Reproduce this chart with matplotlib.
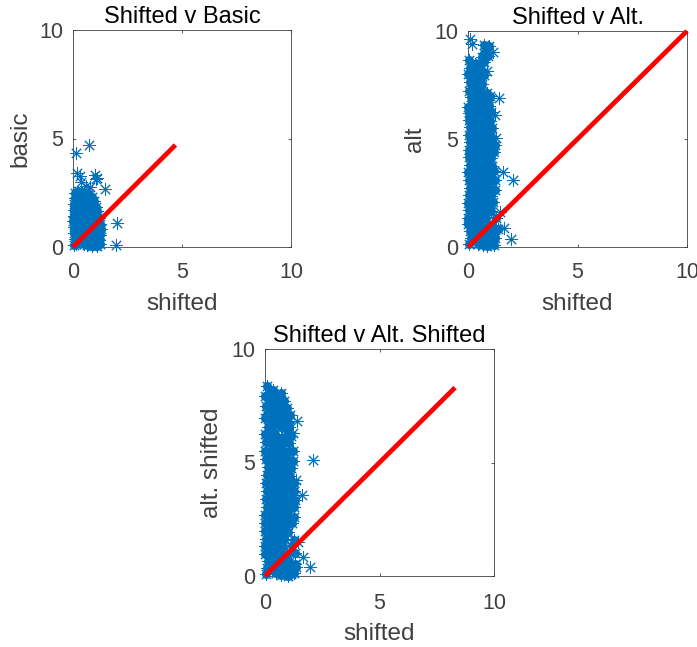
import numpy as np
import matplotlib
matplotlib.use("Agg")
import matplotlib.pyplot as plt

plt.rcParams["font.family"] = ["Liberation Sans", "DejaVu Sans"]

W = 697
H = 647

# Values: (shifted, other)
# the *_sparse lists are the stray points, the others make up the dense cloud
basic_sparse = [
    (0.15, 4.35), (0.75, 4.72), (0.2, 3.4), (0.3, 3.25), (0.35, 3.0), (0.6, 2.8), (0.78, 2.78),
    (1.0, 3.3), (1.05, 3.15), (1.12, 3.2), (1.45, 2.65), (2.02, 1.1), (1.95, 0.08),
]
basic_pts = [
    (0.1, 2.5), (0.25, 2.6), (0.42, 2.55), (0.6, 2.5), (0.72, 2.45), (0.85, 2.3),
    (0.08, 2.25), (0.2, 2.3), (0.35, 2.2), (0.5, 2.28), (0.65, 2.2), (0.8, 2.1), (0.98, 2.12),
    (0.06, 2.0), (0.18, 1.95), (0.3, 2.02), (0.45, 1.9), (0.6, 1.98), (0.75, 1.88), (0.9, 1.95), (1.05, 1.85),
    (0.05, 1.72), (0.15, 1.68), (0.28, 1.75), (0.42, 1.65), (0.56, 1.72), (0.7, 1.62), (0.85, 1.7), (1.0, 1.62), (1.12, 1.68),
    (0.03, 1.45), (0.14, 1.4), (0.26, 1.48), (0.4, 1.38), (0.54, 1.45), (0.68, 1.36), (0.82, 1.44), (0.96, 1.38), (1.1, 1.42), (1.2, 1.35),
    (0.02, 1.18), (0.12, 1.12), (0.24, 1.2), (0.38, 1.1), (0.52, 1.18), (0.66, 1.08), (0.8, 1.16), (0.94, 1.1), (1.08, 1.15), (1.22, 1.08),
    (0.03, 0.92), (0.16, 0.86), (0.3, 0.94), (0.44, 0.84), (0.58, 0.92), (0.72, 0.82), (0.86, 0.9), (1.0, 0.84), (1.14, 0.9), (1.28, 0.82),
    (0.05, 0.64), (0.18, 0.6), (0.32, 0.68), (0.46, 0.58), (0.6, 0.66), (0.74, 0.56), (0.88, 0.64), (1.02, 0.58), (1.16, 0.62), (1.26, 0.55),
    (0.08, 0.38), (0.22, 0.32), (0.36, 0.4), (0.5, 0.3), (0.64, 0.38), (0.78, 0.28), (0.92, 0.36), (1.06, 0.3), (1.2, 0.34),
    (0.04, 0.1), (0.12, 0.14), (0.5, 0.12), (0.62, 0.08), (0.76, 0.14), (0.88, 0.06), (1.0, 0.12), (1.08, 0.04), (1.22, 0.12),
]

alt_sparse = [
    (0.1, 9.65), (0.2, 9.4), (1.15, 9.05), (0.88, 8.15), (1.42, 6.9), (1.25, 6.1), (1.6, 3.45),
    (2.05, 3.1), (1.45, 1.6), (1.65, 0.88), (1.95, 0.35), (1.28, 5.05),
]
alt_pts = [
    (0.72, 9.35), (0.85, 9.2), (0.95, 9.3), (0.75, 9.0), (0.65, 8.8), (0.9, 8.85),
    (0.55, 8.5), (0.72, 8.55), (0.05, 8.65), (0.3, 8.45), (0.1, 8.3), (0.3, 8.2), (0.5, 8.25), (0.68, 8.1),
    (0.02, 8.0), (0.18, 7.9), (0.38, 8.0), (0.58, 7.85), (0.75, 7.95), (0.08, 7.65), (0.28, 7.6), (0.48, 7.7), (0.66, 7.55),
    (0.05, 7.2), (0.2, 7.25), (0.42, 7.3), (0.6, 7.2), (0.85, 7.15), (1.0, 7.0), (0.12, 6.95), (0.3, 6.9), (0.52, 6.95), (0.72, 6.85), (0.92, 6.8),
    (0.02, 6.5), (0.18, 6.6), (0.38, 6.55), (0.58, 6.6), (0.78, 6.5), (0.98, 6.55), (0.05, 6.2), (0.25, 6.25), (0.45, 6.15), (0.65, 6.3), (0.85, 6.2), (1.05, 6.25),
    (0.06, 5.9), (0.26, 5.85), (0.46, 5.95), (0.66, 5.8), (0.86, 5.9), (1.02, 5.85), (0.08, 5.55), (0.28, 5.5), (0.48, 5.6), (0.68, 5.45), (0.88, 5.55), (1.08, 5.5),
    (0.05, 5.2), (0.25, 5.15), (0.45, 5.25), (0.65, 5.1), (0.85, 5.2), (1.05, 5.15), (0.08, 4.85), (0.28, 4.8), (0.48, 4.9), (0.68, 4.75), (0.88, 4.85), (1.08, 4.8), (1.22, 4.7),
    (0.03, 4.5), (0.23, 4.45), (0.43, 4.55), (0.63, 4.4), (0.83, 4.5), (1.03, 4.45), (1.2, 4.4), (0.06, 4.15), (0.26, 4.1), (0.46, 4.2), (0.66, 4.05), (0.86, 4.15), (1.06, 4.1),
    (0.08, 3.8), (0.28, 3.75), (0.48, 3.85), (0.68, 3.7), (0.88, 3.8), (1.08, 3.75), (0.02, 3.45), (0.22, 3.4), (0.42, 3.5), (0.62, 3.35), (0.82, 3.45), (1.02, 3.4), (1.2, 3.5),
    (0.05, 3.1), (0.25, 3.05), (0.45, 3.15), (0.65, 3.0), (0.85, 3.1), (1.05, 3.05), (1.25, 3.1), (0.08, 2.75), (0.28, 2.7), (0.48, 2.8), (0.68, 2.65), (0.88, 2.75), (1.08, 2.7), (1.22, 2.62),
    (0.04, 2.4), (0.24, 2.35), (0.44, 2.45), (0.64, 2.3), (0.84, 2.4), (1.04, 2.35), (0.02, 2.05), (0.22, 2.0), (0.42, 2.1), (0.62, 1.95), (0.82, 2.05), (1.02, 2.0), (1.15, 2.08),
    (0.06, 1.7), (0.26, 1.65), (0.46, 1.75), (0.66, 1.6), (0.86, 1.7), (1.06, 1.65), (0.02, 1.35), (0.22, 1.3), (0.42, 1.4), (0.62, 1.25), (0.82, 1.35), (1.3, 1.35),
    (0.01, 1.05), (0.2, 1.0), (0.4, 1.08), (0.6, 0.95), (0.85, 1.0), (1.1, 1.0), (1.35, 0.85), (0.1, 0.75), (0.3, 0.7), (0.5, 0.78), (0.72, 0.7), (0.95, 0.72), (1.2, 0.68),
    (0.15, 0.42), (0.35, 0.38), (0.55, 0.45), (0.75, 0.38), (0.98, 0.42), (1.25, 0.4), (0.05, 0.12), (0.45, 0.12), (0.7, 0.1), (0.88, 0.05), (1.02, 0.14), (1.18, 0.08),
]

alt_shifted_sparse = [
    (1.38, 6.85), (1.22, 6.3), (2.1, 5.12), (1.35, 4.25), (1.62, 3.55), (1.45, 1.5), (1.65, 0.85), (1.98, 0.38),
]
alt_shifted_pts = [
    (0.08, 8.35), (0.2, 8.1), (0.35, 8.2), (0.5, 8.0), (0.7, 8.05), (0.02, 7.95), (0.15, 7.8), (0.32, 7.85), (0.5, 7.7), (0.68, 7.75), (0.85, 7.7),
    (0.05, 7.5), (0.22, 7.45), (0.4, 7.55), (0.58, 7.4), (0.76, 7.5), (0.95, 7.4), (0.1, 7.15), (0.3, 7.1), (0.48, 7.2), (0.66, 7.05), (0.85, 7.15), (1.08, 7.1),
    (0.0, 6.95), (0.2, 6.85), (0.4, 6.9), (0.6, 6.8), (0.8, 6.85), (1.0, 6.8), (0.15, 6.55), (0.35, 6.6), (0.7, 6.55), (0.9, 6.5), (1.05, 6.55),
    (0.02, 6.25), (0.22, 6.2), (0.42, 6.25), (0.75, 6.1), (0.95, 6.2), (1.12, 6.15), (0.05, 5.9), (0.25, 5.85), (0.45, 5.95), (0.65, 5.8), (0.85, 5.9), (1.05, 5.85),
    (0.02, 5.5), (0.22, 5.45), (0.42, 5.55), (0.62, 5.4), (0.82, 5.5), (1.02, 5.45), (1.22, 5.5), (0.05, 5.15), (0.25, 5.1), (0.45, 5.2), (0.65, 5.05), (0.85, 5.15), (1.05, 5.1), (1.22, 5.05),
    (0.12, 4.8), (0.32, 4.75), (0.52, 4.85), (0.72, 4.7), (0.92, 4.8), (1.12, 4.75), (0.08, 4.45), (0.28, 4.4), (0.48, 4.5), (0.68, 4.35), (0.88, 4.45), (1.08, 4.4),
    (0.05, 4.1), (0.25, 4.05), (0.45, 4.15), (0.65, 4.0), (0.85, 4.1), (1.05, 4.05), (1.25, 4.1), (0.08, 3.75), (0.28, 3.7), (0.48, 3.8), (0.68, 3.65), (0.88, 3.75), (1.08, 3.7), (1.28, 3.75),
    (0.05, 3.4), (0.25, 3.35), (0.45, 3.45), (0.65, 3.3), (0.85, 3.4), (1.05, 3.35), (1.3, 3.35), (0.08, 3.05), (0.28, 3.0), (0.48, 3.1), (0.68, 2.95), (0.88, 3.05), (1.08, 3.0), (1.25, 3.05),
    (0.02, 2.7), (0.22, 2.65), (0.42, 2.75), (0.62, 2.6), (0.82, 2.7), (1.02, 2.65), (1.28, 2.6), (0.0, 2.35), (0.2, 2.3), (0.4, 2.4), (0.6, 2.25), (0.8, 2.35), (1.0, 2.3), (1.18, 2.35),
    (0.02, 2.0), (0.22, 1.95), (0.42, 2.05), (0.62, 1.9), (0.82, 2.0), (1.0, 1.95), (0.05, 1.65), (0.25, 1.6), (0.45, 1.7), (0.65, 1.55), (0.85, 1.62), (1.25, 1.6),
    (0.0, 1.3), (0.2, 1.25), (0.4, 1.35), (0.6, 1.2), (0.8, 1.3), (1.2, 1.3), (0.02, 0.98), (0.25, 0.95), (0.5, 1.0), (0.72, 0.9), (0.98, 0.95), (1.3, 1.0),
    (0.12, 0.65), (0.35, 0.6), (0.58, 0.68), (0.8, 0.6), (1.05, 0.62), (1.3, 0.55), (0.1, 0.35), (0.3, 0.3), (0.55, 0.38), (0.75, 0.3), (0.95, 0.35), (1.2, 0.3), (1.35, 0.4),
    (0.05, 0.1), (0.5, 0.12), (0.7, 0.05), (0.85, 0.12), (1.0, 0.02), (1.15, 0.1), (1.28, 0.15),
]

panels = [
    {"pts": basic_pts, "sparse": basic_sparse, "end": 4.7, "title": "Shifted v Basic", "ylabel": "basic",
     "box": (73, 30, 218, 217), "ylabel_x": 20, "tick_pad": 11},
    {"pts": alt_pts, "sparse": alt_sparse, "end": 10, "title": "Shifted v Alt.", "ylabel": "alt",
     "box": (468, 31, 219, 216), "ylabel_x": 415, "tick_pad": 11},
    {"pts": alt_shifted_pts, "sparse": alt_shifted_sparse, "end": 8.3, "title": "Shifted v Alt. Shifted", "ylabel": "alt. shifted",
     "box": (265, 349, 229, 227), "ylabel_x": 212, "tick_pad": 12},
]

BLUE = "#0072BD"
GREY = "#404040"

fig = plt.figure(figsize=(W / 100, H / 100), dpi=100)

for p in panels:
    left, top, w, h = p["box"]
    ax = fig.add_axes([left / W, 1 - (top + h) / H, w / W, h / H])

    pts = np.array(p["pts"])
    sparse = np.array(p["sparse"])

    # too few points to close the cloud with thin asterisks alone, so a solid dot goes underneath
    ax.plot(pts[:, 0], pts[:, 1], linestyle="none", marker="o", markersize=6.5,
            markeredgewidth=0, color=BLUE, clip_on=False, zorder=2)
    for xy in (pts, sparse):
        ax.plot(xy[:, 0], xy[:, 1], linestyle="none", marker=(8, 2, 0), markersize=9.4,
                markeredgewidth=0.7, color=BLUE, clip_on=False, zorder=2)

    ax.plot([0, p["end"]], [0, p["end"]], color="#FF0000", linewidth=3.4,
            solid_capstyle="butt", clip_on=False, zorder=3)

    ax.set_xlim(0, 10)
    ax.set_ylim(0, 10)
    ax.set_xticks([0, 5, 10])
    ax.set_yticks([0, 5, 10])
    ax.tick_params(direction="in", top=True, right=True, length=2.5, width=0.6,
                   labelsize=15.5, colors=GREY)
    ax.tick_params(axis="x", pad=p["tick_pad"])
    ax.tick_params(axis="y", pad=7)
    for s in ax.spines.values():
        s.set_linewidth(0.6)
        s.set_color(GREY)
        s.set_zorder(1)

    ax.set_title(p["title"], fontsize=17, color="black", pad=5)
    ax.set_xlabel("shifted", fontsize=17.5, color=GREY, labelpad=7)
    fig.text(p["ylabel_x"] / W, 1 - (top + h / 2) / H, p["ylabel"], rotation=90, fontsize=17.5,
             color=GREY, ha="center", va="center")

fig.savefig("out.png", dpi=100)
